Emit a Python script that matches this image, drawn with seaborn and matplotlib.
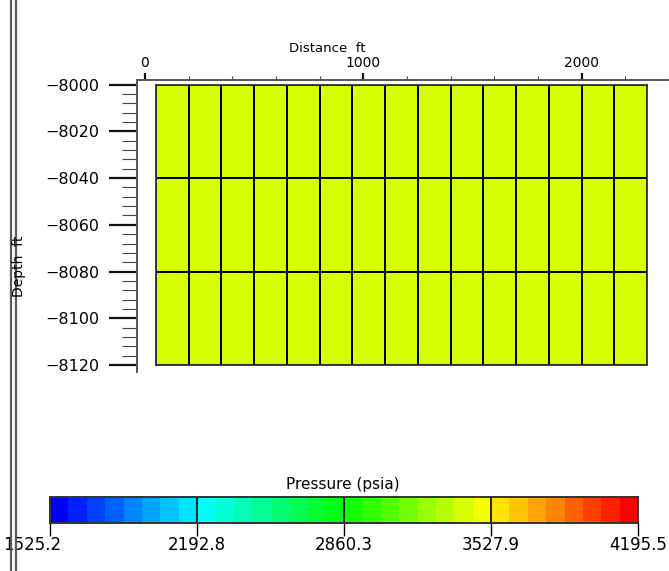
import numpy as np
import pandas as pd
import matplotlib
matplotlib.use("Agg")
import matplotlib.pyplot as plt
import seaborn as sns
from matplotlib.colors import ListedColormap, LinearSegmentedColormap
from matplotlib.lines import Line2D
from matplotlib.ticker import MultipleLocator, FixedLocator
import matplotlib.transforms as mtransforms

# ---------------- data ----------------
col_edges_ft = [50, 200, 350, 500, 650, 800, 950, 1100, 1250, 1400,
                1550, 1700, 1850, 2000, 2150, 2300]
depth_edges_ft = [-8000, -8040, -8080, -8120]
pressure_row1 = [3410, 3410, 3410, 3410, 3410, 3410, 3410, 3410, 3410, 3410, 3410, 3410, 3410, 3410, 3410]
pressure_row2 = [3410, 3410, 3410, 3410, 3410, 3410, 3410, 3410, 3410, 3410, 3410, 3410, 3410, 3410, 3410]
pressure_row3 = [3410, 3410, 3410, 3410, 3410, 3410, 3410, 3410, 3410, 3410, 3410, 3410, 3410, 3410, 3410]
cbar_ticks = [1525.2, 2192.8, 2860.3, 3527.9, 4195.5]
x_major_ticks = [0, 1000, 2000]
y_major_ticks = [-8000, -8020, -8040, -8060, -8080, -8100, -8120]
cmap_anchor_colors = ["#0000ff", "#00ffff", "#00ff00", "#ffff00", "#ff0000"]
n_levels = 32

# ---------------- style ----------------
sns.set_style("white")
plt.rcParams["font.family"] = ["DejaVu Sans"]
plt.rcParams["text.color"] = "black"
plt.rcParams["xtick.labelcolor"] = "black"
plt.rcParams["ytick.labelcolor"] = "black"

W, H = 669, 571
fig = plt.figure(figsize=(W / 100, H / 100), dpi=100)

base = LinearSegmentedColormap.from_list("pjet", cmap_anchor_colors)
cmap = ListedColormap(base(np.linspace(0, 1, n_levels)))

# main axes (ft coordinates)
ax = fig.add_axes([137 / W, 1 - 372 / H, 1 - 137 / W, (372 - 80) / H])
ax.set_xlim(-36.6, 2400)
ax.set_ylim(-8123, -7998)
ax.set_facecolor("white")
for s in ["right", "bottom"]:
    ax.spines[s].set_visible(False)
for s in ["left", "top"]:
    ax.spines[s].set_visible(True)
    ax.spines[s].set_color("#555555")
    ax.spines[s].set_linewidth(1.4)

ax.xaxis.tick_top()
ax.xaxis.set_major_locator(FixedLocator(x_major_ticks))
ax.xaxis.set_minor_locator(MultipleLocator(200))
ax.yaxis.set_major_locator(FixedLocator(y_major_ticks))
ax.yaxis.set_minor_locator(MultipleLocator(4))
ax.set_xticklabels([str(v) for v in x_major_ticks])
ax.set_yticklabels([f"\u2212{abs(v)}" for v in y_major_ticks])
ax.tick_params(axis="x", which="major", direction="out", length=5, width=1.6,
               color="#111111", labelsize=10, pad=2, top=True, bottom=False)
ax.tick_params(axis="x", which="minor", direction="out", length=3, width=0.8,
               color="#444444", top=True, bottom=False)
ax.tick_params(axis="y", which="major", direction="out", length=20, width=1.6,
               color="#111111", labelsize=11.5, pad=7, left=True)
ax.tick_params(axis="y", which="minor", direction="out", length=11, width=0.8,
               color="#444444", left=True)

# grid cells drawn by seaborn heatmap in an inset placed in data coords
bounds = [col_edges_ft[0], depth_edges_ft[-1],
          col_edges_ft[-1] - col_edges_ft[0], depth_edges_ft[0] - depth_edges_ft[-1]]
ins = ax.inset_axes(bounds, transform=ax.transData)

cax = fig.add_axes([50 / W, 1 - 523 / H, (638 - 50) / W, (523 - 497) / H])

df = pd.DataFrame([pressure_row1, pressure_row2, pressure_row3])
sns.heatmap(df, ax=ins, cmap=cmap, vmin=cbar_ticks[0], vmax=cbar_ticks[-1],
            linewidths=1.3, linecolor="black", xticklabels=False, yticklabels=False,
            cbar_ax=cax, cbar_kws={"orientation": "horizontal"})
for s in ins.spines.values():
    s.set_visible(True)
    s.set_color("#333333")
    s.set_linewidth(1.3)

# colorbar styling
cax.set_xlim(cbar_ticks[0], cbar_ticks[-1])
cax.xaxis.set_major_locator(FixedLocator(cbar_ticks))
cax.set_xticklabels([f"{v:.1f}" for v in cbar_ticks])
cax.tick_params(axis="x", which="both", direction="out", length=9, width=1,
                color="black", labelsize=12, pad=0, bottom=True, top=False)
cax.xaxis.set_minor_locator(FixedLocator([]))
cax.set_yticks([])
for v in cbar_ticks[1:-1]:
    cax.axvline(v, color="black", lw=1.2)
for s in cax.spines.values():
    s.set_visible(True)
    s.set_color("#333333")
    s.set_linewidth(1.2)
# shift the first colorbar label so it stays inside the figure
lbls = cax.get_xticklabels()
offset = mtransforms.ScaledTranslation(-18 / 100, 0, fig.dpi_scale_trans)
lbls[0].set_transform(lbls[0].get_transform() + offset)

# titles / labels
fig.text(343 / W, 1 - 485 / H, "Pressure (psia)", ha="center", va="center", fontsize=11)
fig.text(289 / W, 1 - 49 / H, "Distance  ft", ha="left", va="center", fontsize=9.5)
fig.text(19 / W, 1 - 266 / H, "Depth  ft", ha="center", va="center", rotation=90, fontsize=10)

# double vertical border at the left
for xpix in (10.5, 15.5):
    fig.add_artist(Line2D([xpix / W, xpix / W], [0, 1], transform=fig.transFigure,
                          color="#5a5a5a", lw=1.6))

fig.savefig("out.png", dpi=100)
